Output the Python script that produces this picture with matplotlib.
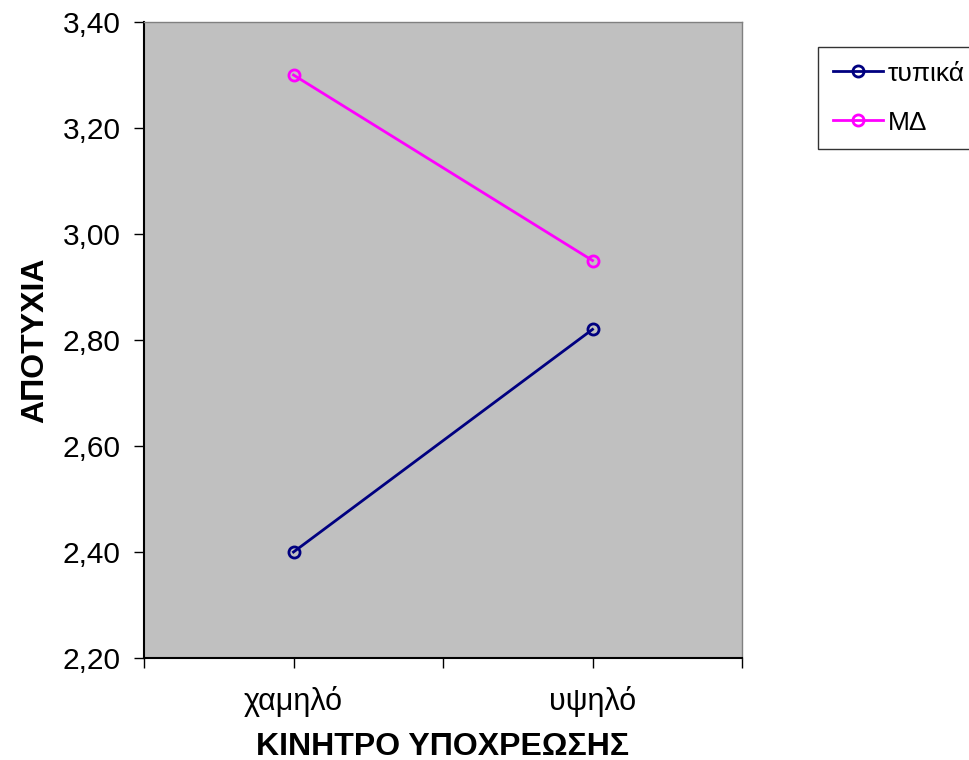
import matplotlib.pyplot as plt

categories = ["χαμηλό", "υψηλό"]
typical = [2.40, 2.82]
md = [3.30, 2.95]
series_names = ["τυπικά", "ΜΔ"]

plt.rcParams["font.family"] = ["Liberation Sans", "DejaVu Sans"]

fig = plt.figure(figsize=(9.69, 7.6), dpi=100)
ax = fig.add_axes([144 / 969, 1 - 658 / 760, (742 - 144) / 969, (658 - 22) / 760])
ax.set_facecolor("#c0c0c0")

x = list(range(len(categories)))
ax.plot(x, typical, color="#000080", lw=2, marker="o", ms=8, mfc="none", mew=2, label=series_names[0])
ax.plot(x, md, color="#ff00ff", lw=2, marker="o", ms=8, mfc="none", mew=2, label=series_names[1])

ax.set_xlim(-0.5, 1.5)
ax.set_ylim(2.2, 3.4)
ax.set_yticks([2.2 + 0.2 * i for i in range(7)])
ax.set_yticklabels([f"{2.2 + 0.2 * i:.2f}".replace(".", ",") for i in range(7)], fontsize=21.5)
ax.set_xticks([-0.5, 0, 0.5, 1, 1.5])
ax.set_xticklabels(["", categories[0], "", categories[1], ""], fontsize=22)
ax.tick_params(axis="y", length=7, width=1, color="black", pad=10)
ax.tick_params(axis="x", length=7, width=1, color="black", pad=13)

for s in ["top", "right"]:
    ax.spines[s].set_color("#808080")
    ax.spines[s].set_linewidth(1)
for s in ["left", "bottom"]:
    ax.spines[s].set_linewidth(1.5)

ax.set_xlabel("ΚΙΝΗΤΡΟ ΥΠΟΧΡΕΩΣΗΣ", fontsize=23, fontweight="bold", labelpad=11)
ax.set_ylabel("ΑΠΟΤΥΧΙΑ", fontsize=23, fontweight="bold", labelpad=9)

leg = fig.legend(loc="upper left", bbox_to_anchor=(818 / 969, 1 - 47 / 760), fontsize=19,
                 frameon=True, fancybox=False, edgecolor="black", handlelength=1.9,
                 borderpad=0.55, labelspacing=0.95, handletextpad=0.2, borderaxespad=0)
leg.get_frame().set_linewidth(1)

fig.savefig("out.png", dpi=100)
